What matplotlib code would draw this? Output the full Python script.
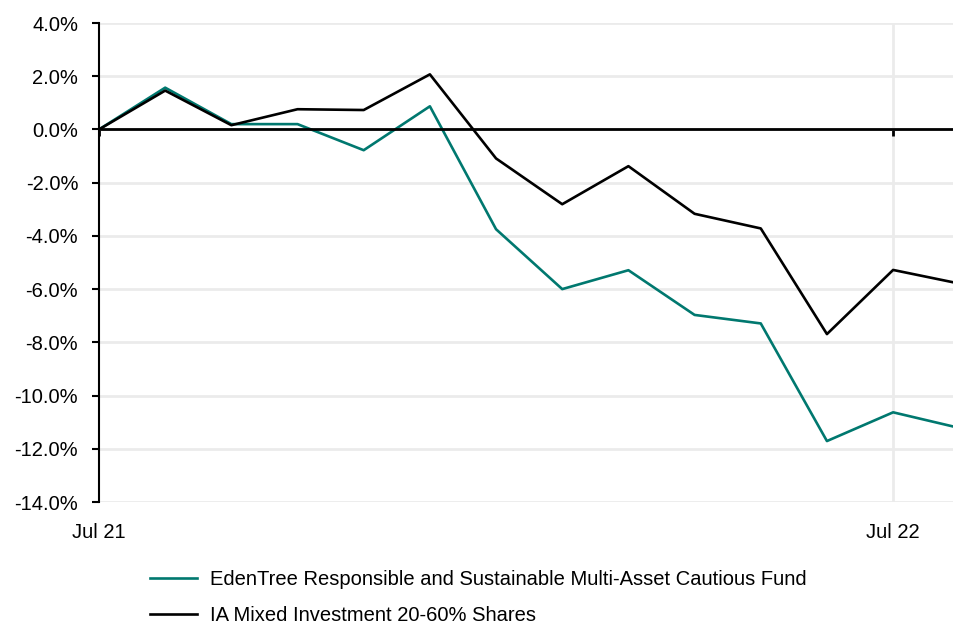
import matplotlib.pyplot as plt
from matplotlib.ticker import FuncFormatter

plt.rcParams["font.family"] = ["Liberation Sans", "DejaVu Sans"]

# months since Jul 21 (last point is part-way through Aug 22)
months = [0, 1, 2, 3, 4, 5, 6, 7, 8, 9, 10, 11, 12, 12.92]
edentree = [0.0, 1.57, 0.2, 0.2, -0.78, 0.87, -3.75, -6.0, -5.29, -6.97, -7.29, -11.71, -10.63, -11.17]
ia_mixed = [0.0, 1.46, 0.16, 0.76, 0.73, 2.07, -1.09, -2.81, -1.38, -3.17, -3.72, -7.69, -5.28, -5.75]
x_ticks = [0, 12]
x_labels = ["Jul 21", "Jul 22"]
y_ticks = [4, 2, 0, -2, -4, -6, -8, -10, -12, -14]

teal = "#00786f"
grid = "#ebebeb"
fs = 14.5

fig = plt.figure(figsize=(9.54, 6.24), dpi=100)
ax = fig.add_axes([99 / 954, 1 - 502 / 624, 1 - 99 / 954, (502 - 23) / 624])

ax.plot(months, edentree, color=teal, lw=1.9,
        label="EdenTree Responsible and Sustainable Multi-Asset Cautious Fund")
ax.plot(months, ia_mixed, color="black", lw=1.9,
        label="IA Mixed Investment 20-60% Shares")

ax.set_xlim(0, months[-1])
ax.set_ylim(-14, 4)
ax.set_yticks(y_ticks)
ax.yaxis.set_major_formatter(FuncFormatter(lambda v, p: "%.1f%%" % v))
ax.grid(axis="y", color=grid, lw=2)
for xt in x_ticks[1:]:
    ax.axvline(xt, color=grid, lw=2, zorder=0)
ax.set_axisbelow(True)

# x axis drawn through zero, labels at the bottom
ax.spines["bottom"].set_position(("data", 0))
ax.spines["bottom"].set_linewidth(2)
ax.spines["top"].set_visible(False)
ax.spines["right"].set_visible(False)
ax.spines["left"].set_linewidth(1.5)
ax.set_xticks(x_ticks)
ax.tick_params(axis="x", direction="out", length=5, width=2, labelbottom=False)
ax.tick_params(axis="y", direction="out", length=5, width=1.5, labelsize=fs, pad=10)

sec = ax.secondary_xaxis("bottom")
sec.set_xticks(x_ticks)
sec.set_xticklabels(x_labels)
sec.spines["bottom"].set_visible(False)
sec.tick_params(length=0, labelsize=fs, pad=15)

fig.legend(loc="upper left", bbox_to_anchor=(142 / 954, 1 - 562 / 624), frameon=False,
           fontsize=fs, handlelength=2.34, labelspacing=0.85, handletextpad=0.65,
           borderaxespad=0)

fig.savefig("out.png", dpi=100)
